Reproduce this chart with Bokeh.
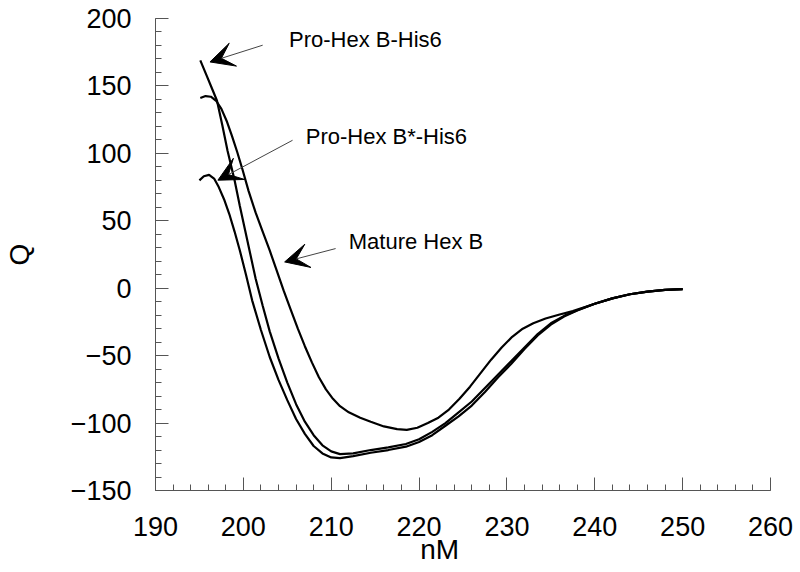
from bokeh.plotting import figure
from bokeh.models import Range1d, SingleIntervalTicker, Label, Arrow, VeeHead
from bokeh.embed import file_html
from bokeh.resources import INLINE

# ---- data ----
bstar_x = [195.0, 195.5, 196.1, 196.7, 197.2, 197.8, 198.4, 199.0, 199.6, 200.3, 201.0, 202.0,
           203.0, 204.0, 205.0, 206.0, 207.0, 208.0, 209.0, 210.0, 211.0, 212.5, 214.5, 216.5,
           218.5, 220.0, 221.5, 223.0, 224.5, 226.0, 227.5, 229.0, 230.5, 232.0, 233.5, 235.0,
           236.5, 238.0, 240.0, 242.0, 244.0, 246.0, 248.0, 250.0]
bstar_y = [80, 83, 84, 81, 75, 66, 55, 42, 28, 10, -9, -31,
           -51, -68, -83, -97, -108, -117, -122.5, -125.5, -126, -124.5, -122, -120,
           -117.5, -114, -109, -102, -95, -87, -77, -66, -56, -45, -35, -27,
           -21, -16.5, -11.5, -7.5, -4.5, -2.5, -1.3, -0.7]

p1_x = [195.1, 195.8, 196.5, 197.0, 197.6, 198.2, 199.0, 199.6, 200.2, 200.8, 201.4, 202.2, 203.0,
        204.0, 205.0, 206.0, 207.0, 208.0, 209.0, 210.0, 211.0, 212.5, 214.5, 216.5, 218.5,
        220.0, 221.5, 223.0, 224.5, 226.0, 227.5, 229.0, 230.5, 232.0, 233.5, 235.0, 236.5,
        238.0, 240.0, 242.0, 244.0, 246.0, 248.0, 250.0]
p1_y = [169, 158, 147, 139, 121, 102, 80, 61, 43, 25, 7, -13, -32,
        -52, -70, -86, -99, -109, -116.5, -121, -123, -122.5, -120, -118, -115.5,
        -112, -106.5, -100, -92, -84, -74, -64, -54, -44, -34, -26, -20.5,
        -16.3, -11.5, -7.5, -4.5, -2.5, -1.3, -0.7]

mature_x = [195.1, 195.7, 196.3, 196.9, 197.5, 198.1, 198.7, 199.3, 199.9, 200.6, 201.4, 202.2,
            203.0, 203.8, 204.6, 205.4, 206.2, 207.0, 207.8, 208.6, 209.4, 210.2, 211.0, 212.0,
            213.3, 214.5, 216.0, 217.5, 218.6, 219.8, 221.0, 222.2, 223.4, 224.6, 225.8, 227.0,
            228.2, 229.4, 230.6, 231.8, 233.0, 234.4, 236.0, 237.5, 240.0, 242.0, 244.0, 246.0,
            248.0, 250.0]
mature_y = [141, 142.5, 142, 139, 133, 124, 113, 101, 88, 72, 56, 42,
            28, 13, -2, -16, -30, -43, -55, -66, -75, -82, -87.5, -92,
            -96, -99, -102.5, -104.5, -105, -103.5, -100, -96, -90, -82, -73, -63,
            -53, -44, -36, -30, -26, -22.5, -19.5, -17, -11.5, -7.5, -4.5, -2.5,
            -1.3, -0.7]

labels = ["Pro-Hex B-His6", "Pro-Hex B*-His6", "Mature Hex B"]
x_title = "nM"
y_title = "Q"

FONT = "Liberation Sans"
NBSP = "\u00a0"

p = figure(width=800, height=572, output_backend="svg", toolbar_location=None,
           x_range=Range1d(190, 260), y_range=Range1d(-150, 200),
           min_border_left=150, min_border_right=30, min_border_top=18, min_border_bottom=82,
           x_axis_label=x_title + NBSP * 6, y_axis_label=y_title)
p.xgrid.visible = False
p.ygrid.visible = False
p.outline_line_color = None
p.background_fill_color = "white"
p.border_fill_color = "white"

for x, y in [(bstar_x, bstar_y), (p1_x, p1_y), (mature_x, mature_y)]:
    p.line(x, y, line_color="black", line_width=2.2)

p.xaxis.ticker = SingleIntervalTicker(interval=10, num_minor_ticks=5)
p.yaxis.ticker = SingleIntervalTicker(interval=50, num_minor_ticks=5)
for ax in (p.xaxis[0], p.yaxis[0]):
    ax.axis_line_color = "#555555"
    ax.axis_line_width = 1
    ax.major_tick_line_color = "#555555"
    ax.minor_tick_line_color = "#555555"
    ax.major_tick_in = 13
    ax.major_tick_out = 0
    ax.minor_tick_in = 6
    ax.minor_tick_out = 0
    ax.major_label_text_font = FONT
    ax.major_label_text_font_size = "27px"
    ax.major_label_text_color = "black"
    ax.axis_label_text_font = FONT
    ax.axis_label_text_font_size = "28px"
    ax.axis_label_text_font_style = "normal"
    ax.axis_label_text_color = "black"
p.yaxis.major_label_standoff = 24
p.yaxis.axis_label_standoff = 33
p.xaxis.major_label_standoff = 26
p.xaxis.axis_label_standoff = -5

# annotations
label_pos = [(205.2, 184.6), (207.1, 112.7), (212.0, 34.9)]
arrow_pos = [((202.2, 180.2), (196.2, 167.8)),
             ((205.6, 109.7), (197.1, 80.1)),
             ((210.5, 29.4), (204.7, 19.5))]
for txt, (lx, ly), ((sx, sy), (ex, ey)) in zip(labels, label_pos, arrow_pos):
    p.add_layout(Label(x=lx, y=ly, text=txt, text_font=FONT, text_font_size="22px",
                       text_align="left", text_baseline="middle", text_color="black"))
    p.add_layout(Arrow(x_start=sx, y_start=sy, x_end=ex, y_end=ey,
                       line_color="#444444", line_width=1,
                       end=VeeHead(size=24, fill_color="black", line_color="black")))

open("out.html", "w").write(file_html(p, INLINE))
